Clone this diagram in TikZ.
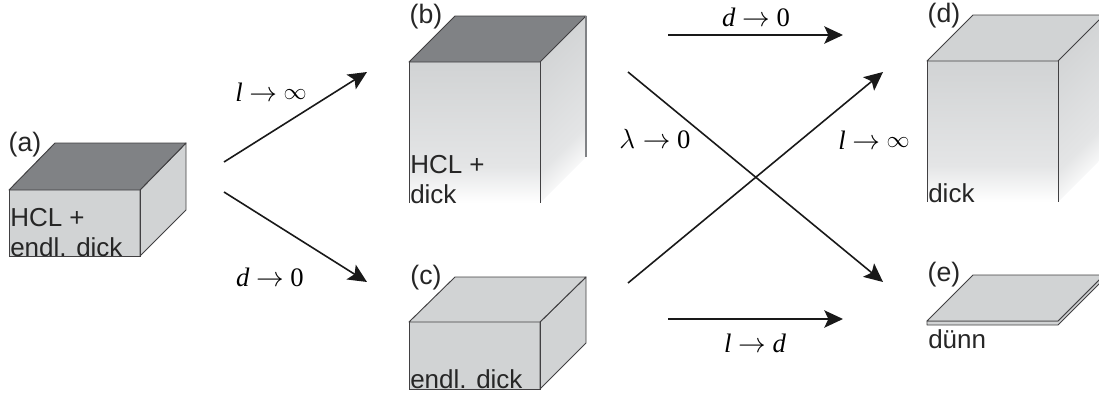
\documentclass[tikz,border=0pt]{standalone}
\usepackage{fontspec}
\setmainfont{Liberation Sans}
\newfontfamily\limitfont{Liberation Serif}
\usetikzlibrary{arrows.meta, calc}
\definecolor{BoxGrey}{RGB}{209, 211, 212}
\definecolor{BoxMid}{RGB}{228, 229, 230}
\definecolor{BoxDark}{RGB}{128, 130, 133}
\definecolor{BoxLine}{RGB}{65, 64, 66}
\pgfdeclareverticalshading{boxfade}{100bp}{color(0bp)=(white); color(25bp)=(white); color(38bp)=(BoxMid); color(75bp)=(BoxGrey); color(100bp)=(BoxGrey)}
\newcommand{\lvar}[1]{{\itshape #1}}
\newcommand{\linf}{\raisebox{1.5pt}{\fontsize{16}{17}\selectfont$\infty$}}
\tikzset{
  boxface/.style={fill=BoxGrey, draw=BoxLine, line width=0.7pt, line join=round},
  boxtop/.style={fill=BoxDark, draw=BoxLine, line width=0.7pt, line join=round},
  boxtext/.style={font=\fontsize{19.5}{22.5}\selectfont, text=black!85, inner sep=0pt, anchor=south west, align=left},
  caselabel/.style={font=\fontsize{20}{22}\selectfont, text=black!85, inner sep=0pt},
  limitarrow/.style={-{Stealth[length=14pt, width=13pt, inset=3pt]}, line width=1.2pt, black!90},
  limitlabel/.style={font=\limitfont\fontsize{20}{22}\selectfont, inner sep=0pt}
}
\begin{document}
\begin{tikzpicture}[x=0.75pt, y=-0.75pt]
  \useasboundingbox (0,0) rectangle (1099,396);
  \clip (0,0) rectangle (1099,396);
  % box a
  \fill[BoxGrey] (9,190) rectangle (140,256);
  \draw[boxface] (140,190) -- (186,143) -- (186,210) -- (140,256) -- cycle;
  \draw[boxtop] (9,190) -- (55,143) -- (186,143) -- (140,190) -- cycle;
  \draw[BoxLine, line width=0.7pt] (9,190) -- (9,256) -- (140,256) -- (140,190);
  \node[boxtext] (texta) at (10,257) {HCL +\\endl. dick};
  \node[caselabel] (labela) at (25,145) {(a)};
  % box b
  \shade[shading=boxfade] (409,62) rectangle (540,203);
  \shade[shading=boxfade, shading angle=45] (540,62) -- (586,16) -- (586,157) -- (540,203) -- cycle;
  \draw[boxtop] (409,62) -- (455,16) -- (586,16) -- (540,62) -- cycle;
  \draw[BoxLine, line width=0.7pt] (409,62) -- (409,203) (540,62) -- (540,203);
  \draw[BoxDark, line width=1pt] (586,16) -- (586,157);
  \node[boxtext] (textb) at (410,204.5) {HCL +\\dick};
  \node[caselabel] (labelb) at (426,17) {(b)};
  % box c
  \fill[BoxGrey] (409,322) rectangle (540,389);
  \draw[boxface] (540,322) -- (586,277) -- (586,343) -- (540,389) -- cycle;
  \draw[boxface] (409,322) -- (455,277) -- (586,277) -- (540,322) -- cycle;
  \draw[BoxLine, line width=0.7pt] (409,322) -- (409,389) -- (540,389) -- (540,322);
  \node[boxtext] (textc) at (410,389.5) {endl. dick};
  \node[caselabel] (labelc) at (426,278) {(c)};
  % box d
  \shade[shading=boxfade] (927,61) rectangle (1058,202);
  \shade[shading=boxfade, shading angle=45] (1058,61) -- (1104,15) -- (1104,156) -- (1058,202) -- cycle;
  \draw[boxface] (927,61) -- (973,15) -- (1104,15) -- (1058,61) -- cycle;
  \draw[BoxLine, line width=0.7pt] (927,61) -- (927,202) (1058,61) -- (1058,202);
  \node[boxtext] (textd) at (928,203.5) {dick};
  \node[caselabel] (labeld) at (944,16) {(d)};
  % box e
  \draw[boxface] (927,321) -- (927,325) -- (1058,325) -- (1104,279) -- (1104,275) -- (1058,321) -- cycle;
  \draw[boxface] (927,321) -- (973,275) -- (1104,275) -- (1058,321) -- cycle;
  \node[boxtext] (texte) at (928,349) {dünn};
  \node[caselabel] (labele) at (944,275) {(e)};
  % arrows
  \coordinate (ab0) at (224,162);
  \coordinate (ab1) at (367,72);
  \coordinate (ac0) at (224,192);
  \coordinate (ac1) at (367,282);
  \coordinate (bd0) at (668,35);
  \coordinate (bd1) at (843,35);
  \coordinate (be0) at (628,72);
  \coordinate (be1) at (883,282);
  \coordinate (cd0) at (628,283);
  \coordinate (cd1) at (883,72);
  \coordinate (ce0) at (668,319);
  \coordinate (ce1) at (843,319);
  \draw[limitarrow] (ab0) -- (ab1);
  \draw[limitarrow] (ac0) -- (ac1);
  \draw[limitarrow] (bd0) -- (bd1);
  \draw[limitarrow] (be0) -- (be1);
  \draw[limitarrow] (cd0) -- (cd1);
  \draw[limitarrow] (ce0) -- (ce1);
  % limits
  \node[limitlabel] (lab) at (271,92) {\lvar{l} $\rightarrow$ \linf};
  \node[limitlabel] (lac) at (270,277) {\lvar{d} $\rightarrow$ 0};
  \node[limitlabel] (lbd) at (756,17) {\lvar{d} $\rightarrow$ 0};
  \node[limitlabel] (lbe) at (655,139) {$\lambda\rightarrow$ 0};
  \node[limitlabel] (lcd) at (874,140) {\lvar{l} $\rightarrow$ \linf};
  \node[limitlabel] (lce) at (755,343) {\lvar{l} $\rightarrow$ \lvar{d}};
\end{tikzpicture}
\end{document}
